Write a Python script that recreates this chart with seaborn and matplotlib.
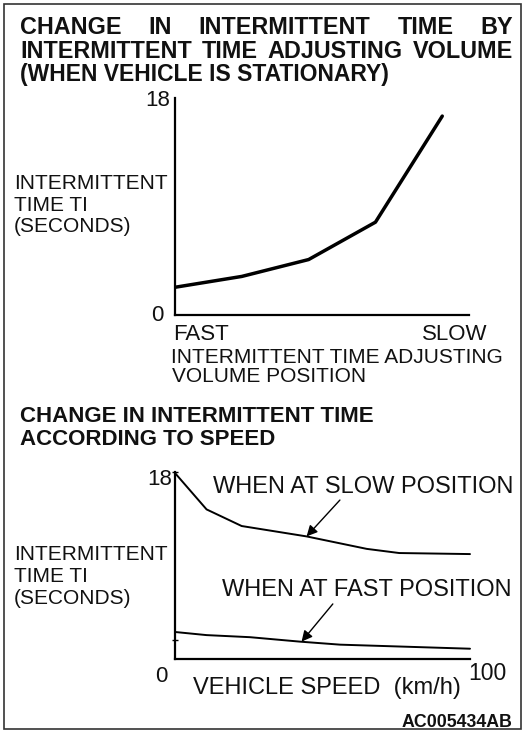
import matplotlib
matplotlib.use("Agg")
import matplotlib.pyplot as plt
import seaborn as sns
import pandas as pd
from matplotlib.patches import Rectangle

# ---------------- data ----------------
volume_pos = [0, 1, 2, 3, 4]                  # FAST ... SLOW
volume_time = [2.3, 3.2, 4.6, 7.7, 16.5]      # seconds

speed_slow = [0, 10.7, 22.6, 44.6, 65, 76, 100]
time_slow = [17.9, 14.4, 12.8, 11.8, 10.6, 10.2, 10.1]

speed_fast = [0, 10.7, 25.4, 42.4, 56, 100]
time_fast = [2.6, 2.3, 2.1, 1.67, 1.38, 0.99]

ref_ticks = [1.8, 18]

title_top = ["CHANGE IN INTERMITTENT TIME BY",
             "INTERMITTENT TIME ADJUSTING VOLUME",
             "(WHEN VEHICLE IS STATIONARY)"]
title_bottom = ["CHANGE IN INTERMITTENT TIME", "ACCORDING TO SPEED"]
ylabel_lines = ["INTERMITTENT", "TIME TI", "(SECONDS)"]
xlabel_top = ["INTERMITTENT TIME ADJUSTING", "VOLUME POSITION"]
xlabel_bottom = "VEHICLE SPEED  (km/h)"
slow_label = "WHEN AT SLOW POSITION"
fast_label = "WHEN AT FAST POSITION"
code_label = "AC005434AB"

df_vol = pd.DataFrame({"pos": volume_pos, "time": volume_time})
df_slow = pd.DataFrame({"speed": speed_slow, "time": time_slow})
df_fast = pd.DataFrame({"speed": speed_fast, "time": time_fast})

# ---------------- style ----------------
sns.set_theme(style="white")
plt.rcParams["font.family"] = ["Liberation Sans", "DejaVu Sans"]

W, H = 525, 733
fig = plt.figure(figsize=(W / 100, H / 100), dpi=100)
fig.patch.set_facecolor("white")
INK = "#111111"


def px_axes(left, top, right, bottom):
    return fig.add_axes([left / W, 1 - bottom / H, (right - left) / W, (bottom - top) / H])


def cap_base(ycap, fs):
    return ycap + 0.716 * fs * 100 / 72 / 2


def ptext(x, ycap, s, fs, ha="left", weight="normal"):
    return fig.text(x / W, 1 - cap_base(ycap, fs) / H, s, fontsize=fs, ha=ha,
                    va="baseline", fontweight=weight, color=INK)


def justified(line, x0, x1, ycap, fs, weight="bold"):
    words = line.split()
    texts = [fig.text(0, 0, w, fontsize=fs, fontweight=weight, color=INK) for w in words]
    r = fig.canvas.get_renderer()
    widths = [t.get_window_extent(r).width for t in texts]
    gap = (x1 - x0 - sum(widths)) / (len(words) - 1)
    x = x0
    yb = 1 - cap_base(ycap, fs) / H
    for t, w in zip(texts, widths):
        t.set_position((x / W, yb))
        t.set_va("baseline")
        x += w + gap


def style_axes(ax):
    for s in ["top", "right"]:
        ax.spines[s].set_visible(False)
    for s in ["left", "bottom"]:
        ax.spines[s].set_color("black")
        ax.spines[s].set_linewidth(1.6)
    ax.set_xlabel("")
    ax.set_ylabel("")
    ax.set_facecolor("none")


# ---------------- top chart ----------------
ax1 = px_axes(175, 98, 469, 315)
sns.lineplot(data=df_vol, x="pos", y="time", ax=ax1, color="black", lw=2.5, sort=False)
ax1.set_xlim(0, 4.4)
ax1.set_ylim(0, 18)
ax1.set_xticks([])
ax1.set_yticks([])
style_axes(ax1)

# ---------------- bottom chart ----------------
ax2 = px_axes(175, 472, 470, 659)
sns.lineplot(data=df_slow, x="speed", y="time", ax=ax2, color="black", lw=1.4, sort=False)
sns.lineplot(data=df_fast, x="speed", y="time", ax=ax2, color="black", lw=1.4, sort=False)
ax2.set_xlim(0, 100)
ax2.set_ylim(0, 18)
ax2.set_xticks([])
ax2.set_yticks(ref_ticks)
ax2.set_yticklabels([])
ax2.tick_params(axis="y", direction="inout", length=5, width=1, colors="black", left=True)
style_axes(ax2)
for ln in ax2.lines:
    ln.set_clip_on(False)

ax2.annotate("", xy=(44.6, 11.8), xytext=(55.9, 15.3),
             arrowprops=dict(arrowstyle="-|>", color="black", lw=1.0, mutation_scale=16,
                             shrinkA=0, shrinkB=0))
ax2.annotate("", xy=(42.9, 1.67), xytext=(53.5, 5.3),
             arrowprops=dict(arrowstyle="-|>", color="black", lw=1.0, mutation_scale=16,
                             shrinkA=0, shrinkB=0))

# ---------------- texts ----------------
justified(title_top[0], 20, 513, 26, 16.8)
justified(title_top[1], 20, 513, 49.5, 16.8)
ptext(20, 73, title_top[2], 16.5, weight="bold")

ptext(170, 98, "18", 16, ha="right")
ptext(163, 313, "0", 16, ha="right")
for ln, yc in zip(ylabel_lines, [182, 203.5, 224.5]):
    ptext(14, yc, ln, 15)
ptext(173, 332, "FAST", 16)
ptext(487, 332, "SLOW", 16, ha="right")
ptext(171, 356, xlabel_top[0], 15)
ptext(172, 375, xlabel_top[1], 15)

ptext(20, 414, title_bottom[0], 16, weight="bold")
ptext(20, 437, title_bottom[1], 16, weight="bold")

ptext(172, 477, "18", 16, ha="right")
ptext(167, 674, "0", 16, ha="right")
ptext(468, 672, "100", 16.5)
for ln, yc in zip(ylabel_lines, [553, 575, 596.5]):
    ptext(14, yc, ln, 15)
ptext(213, 485, slow_label, 17)
ptext(222, 588, fast_label, 17)
ptext(193, 686, xlabel_bottom, 17)
ptext(512, 721, code_label, 12.8, ha="right", weight="bold")

# border
fig.patches.append(Rectangle((4 / W, 4 / H), 517 / W, 725 / H, transform=fig.transFigure,
                             fill=False, edgecolor="#333333", lw=1.2))

fig.savefig("out.png", dpi=100)
